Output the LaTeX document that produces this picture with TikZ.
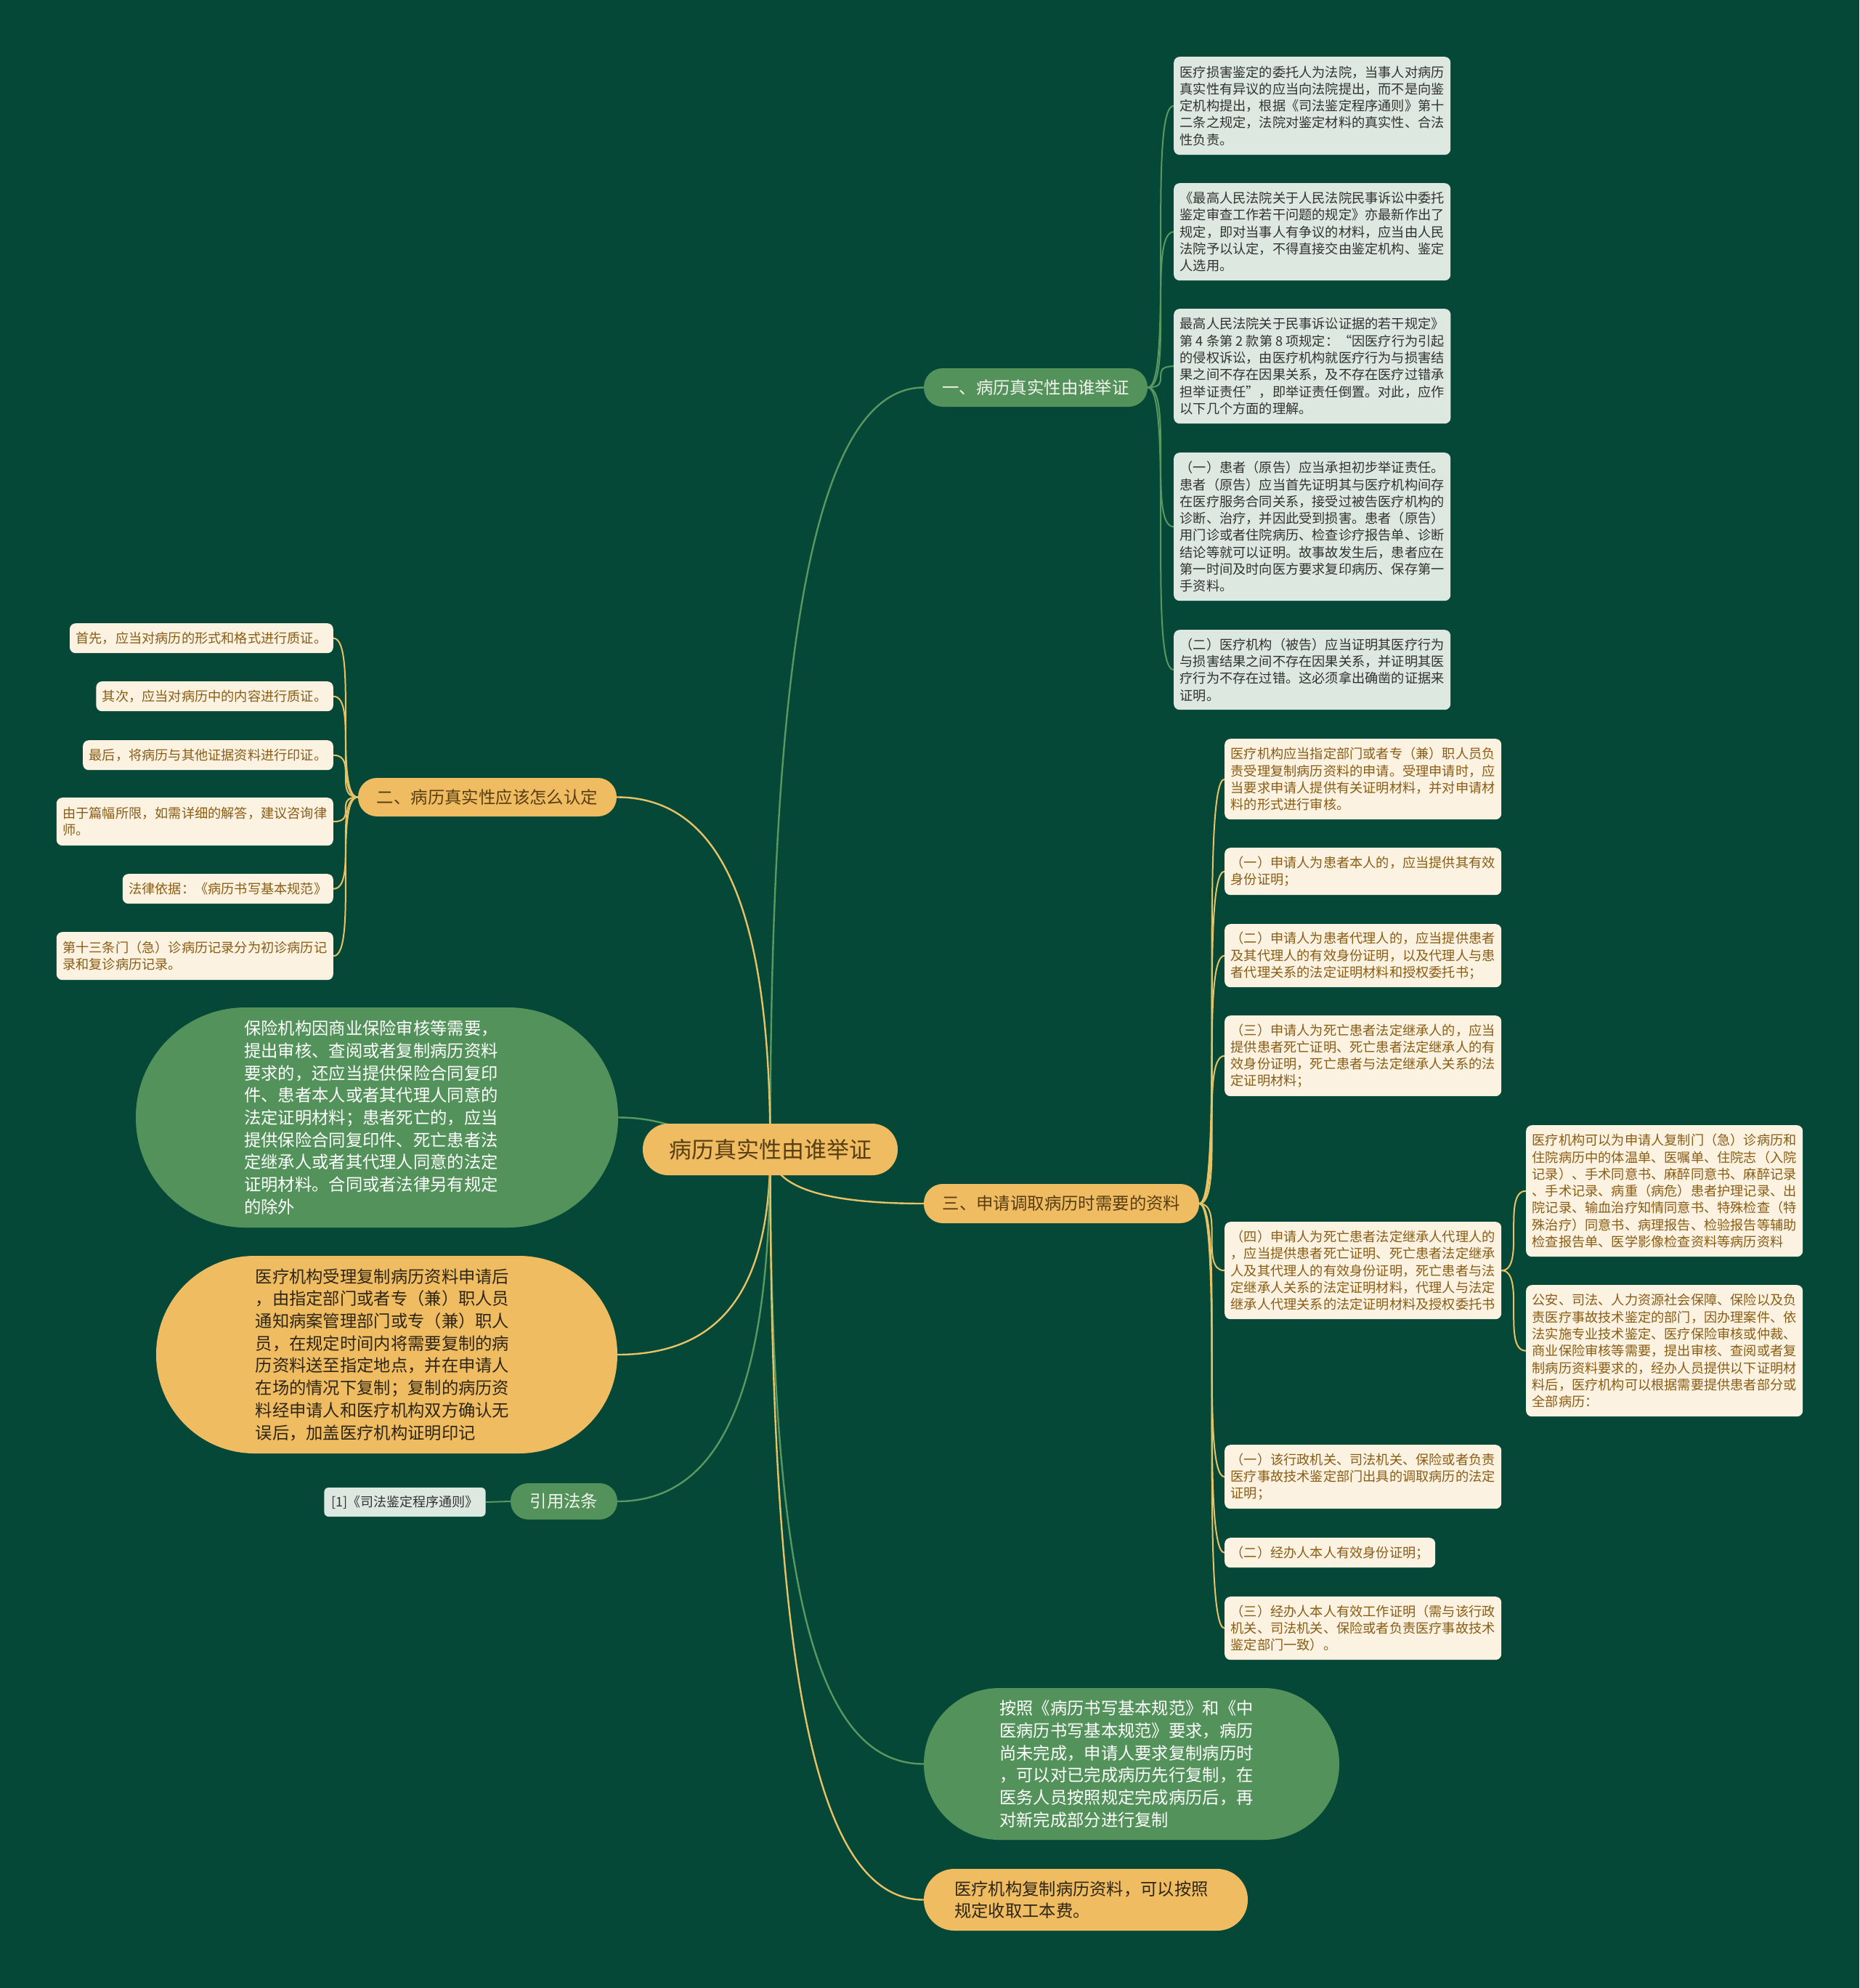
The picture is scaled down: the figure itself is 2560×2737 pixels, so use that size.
\documentclass[tikz,border=0pt]{standalone}
\usepackage{fontspec}
\setmainfont{Noto Sans CJK SC}
\pgfdeclarelayer{bglayer}
\pgfdeclarelayer{edgelayer}
\pgfsetlayers{bglayer,edgelayer,main}
\definecolor{bgc}{RGB}{6,72,56}
\definecolor{gfill}{RGB}{84,146,91}
\definecolor{ofill}{RGB}{240,188,98}
\definecolor{leafgc}{RGB}{221,233,224}
\definecolor{leafcc}{RGB}{252,242,226}
\definecolor{tbrown}{RGB}{138,93,20}
\definecolor{tdark}{RGB}{50,50,50}
\definecolor{tpill}{RGB}{88,62,18}
\definecolor{tlight}{RGB}{240,244,236}
\definecolor{tstad}{RGB}{45,38,22}
\definecolor{lgreen}{RGB}{90,152,98}
\definecolor{lyellow}{RGB}{232,194,102}
\begin{document}
\begin{tikzpicture}[x=1pt,y=-1pt,
  leafbase/.style={rounded corners=8pt, align=left, inner xsep=8.5pt, inner ysep=0pt,
    font=\fontsize{18.2}{23.3}\selectfont, anchor=north west},
  leafg/.style={leafbase, fill=leafgc, text=tdark},
  leafc/.style={leafbase, fill=leafcc, text=tbrown},
  pillbase/.style={inner sep=0pt, font=\fontsize{23.4}{28}\selectfont},
  pillg/.style={pillbase, fill=gfill, text=tlight},
  pillo/.style={pillbase, fill=ofill, text=tpill},
  stadbase/.style={inner sep=0pt, align=left, font=\fontsize{23.3}{30.7}\selectfont},
  stadg/.style={stadbase, fill=gfill, text=white},
  stado/.style={stadbase, fill=ofill, text=tstad},
  rootst/.style={inner sep=0pt, fill=ofill, text=tpill, font=\fontsize{31}{36}\selectfont},
  gline/.style={draw=lgreen, line width=2.4pt},
  yline/.style={draw=lyellow, line width=2.4pt},
  glinet/.style={draw=lgreen, line width=2pt},
  ylinet/.style={draw=lyellow, line width=2pt},
  brc/.style={to path={.. controls +(#1,0) and +(-#1,0) .. (\tikztotarget)}}
]
\useasboundingbox (0,0) rectangle (2560,2737);
\begin{pgfonlayer}{bglayer}
  \fill[bgc] (0,0) rectangle (2560,2737);
\end{pgfonlayer}

% root
\node[rootst, minimum width=351pt, minimum height=71pt, rounded corners=35pt] (root) at (1060.5,1582.5) {病历真实性由谁举证};

% main branches
\node[pillg, minimum width=308pt, minimum height=53pt, rounded corners=26pt] (b1) at (1426,533.5) {一、病历真实性由谁举证};
\node[pillo, minimum width=356pt, minimum height=53pt, rounded corners=26pt] (b2) at (671,1097.5) {二、病历真实性应该怎么认定};
\node[pillo, minimum width=379pt, minimum height=54pt, rounded corners=26pt] (b3) at (1461.5,1657) {三、申请调取病历时需要的资料};
\node[pillg, minimum width=147pt, minimum height=50pt, rounded corners=24.5pt] (q) at (776.5,2067) {引用法条};
\node[inner xsep=10pt, inner ysep=0pt, minimum height=40pt, rounded corners=6pt, fill=leafgc, text=tdark,
  font=\fontsize{18}{22}\selectfont] (ref) at (557.5,2068) {[1]《司法鉴定程序通则》};

% stadiums
\node[stadg, minimum width=664pt, minimum height=303pt, rounded corners=151pt] (s1) at (519,1538.5) {保险机构因商业保险审核等需要，\\提出审核、查阅或者复制病历资料\kern16pt\\要求的，还应当提供保险合同复印\\件、患者本人或者其代理人同意的\\法定证明材料；患者死亡的，应当\\提供保险合同复印件、死亡患者法\\定继承人或者其代理人同意的法定\\证明材料。合同或者法律另有规定\\的除外};
\node[stado, minimum width=635pt, minimum height=272pt, rounded corners=135.5pt] (s2) at (532.5,1865) {医疗机构受理复制病历资料申请后\kern12pt\\，由指定部门或者专（兼）职人员\\通知病案管理部门或专（兼）职人\\员，在规定时间内将需要复制的病\\历资料送至指定地点，并在申请人\\在场的情况下复制；复制的病历资\\料经申请人和医疗机构双方确认无\\误后，加盖医疗机构证明印记};
\node[stadg, minimum width=572pt, minimum height=209pt, rounded corners=104pt] (s3) at (1558,2428.5) {按照《病历书写基本规范》和《中\kern14pt\\医病历书写基本规范》要求，病历\\尚未完成，申请人要求复制病历时\\，可以对已完成病历先行复制，在\\医务人员按照规定完成病历后，再\\对新完成部分进行复制};
\node[stado, minimum width=446pt, minimum height=85pt, rounded corners=42pt] (s4) at (1495,2615.5) {医疗机构复制病历资料，可以按照\kern12pt\\规定收取工本费。};

% branch 1 leaves
\node[leafg, minimum height=135pt] (a1) at (1616,78) {医疗损害鉴定的委托人为法院，当事人对病历\\真实性有异议的应当向法院提出，而不是向鉴\\定机构提出，根据《司法鉴定程序通则》第十\\二条之规定，法院对鉴定材料的真实性、合法\\性负责。};
\node[leafg, minimum height=134pt] (a2) at (1616,252) {《最高人民法院关于人民法院民事诉讼中委托\\鉴定审查工作若干问题的规定》亦最新作出了\\规定，即对当事人有争议的材料，应当由人民\\法院予以认定，不得直接交由鉴定机构、鉴定\\人选用。};
\node[leafg, minimum height=158pt] (a3) at (1616,425) {最高人民法院关于民事诉讼证据的若干规定》\\第 4 条第 2 款第 8 项规定：“因医疗行为引起\\的侵权诉讼，由医疗机构就医疗行为与损害结\\果之间不存在因果关系，及不存在医疗过错承\\担举证责任”，即举证责任倒置。对此，应作\\以下几个方面的理解。};
\node[leafg, minimum height=204pt] (a4) at (1616,623) {（一）患者（原告）应当承担初步举证责任。\\患者（原告）应当首先证明其与医疗机构间存\\在医疗服务合同关系，接受过被告医疗机构的\\诊断、治疗，并因此受到损害。患者（原告）\\用门诊或者住院病历、检查诊疗报告单、诊断\\结论等就可以证明。故事故发生后，患者应在\\第一时间及时向医方要求复印病历、保存第一\\手资料。};
\node[leafg, minimum height=110pt] (a5) at (1616,867) {（二）医疗机构（被告）应当证明其医疗行为\\与损害结果之间不存在因果关系，并证明其医\\疗行为不存在过错。这必须拿出确凿的证据来\\证明。};

% branch 2 leaves
\node[leafc, anchor=north east, minimum height=41pt] (l1) at (459,858) {首先，应当对病历的形式和格式进行质证。};
\node[leafc, anchor=north east, minimum height=41pt] (l2) at (459,938) {其次，应当对病历中的内容进行质证。};
\node[leafc, anchor=north east, minimum height=41pt] (l3) at (459,1019) {最后，将病历与其他证据资料进行印证。};
\node[leafc, anchor=north east, minimum height=66pt] (l4) at (459,1098) {由于篇幅所限，如需详细的解答，建议咨询律\\师。};
\node[leafc, anchor=north east, minimum height=41pt] (l5) at (459,1203) {法律依据：《病历书写基本规范》};
\node[leafc, anchor=north east, minimum height=66pt] (l6) at (459,1283) {第十三条门（急）诊病历记录分为初诊病历记\\录和复诊病历记录。};

% branch 3 leaves
\node[leafc, minimum height=111pt] (c1) at (1686,1017) {医疗机构应当指定部门或者专（兼）职人员负\\责受理复制病历资料的申请。受理申请时，应\\当要求申请人提供有关证明材料，并对申请材\\料的形式进行审核。};
\node[leafc, minimum height=65pt] (c2) at (1686,1167) {（一）申请人为患者本人的，应当提供其有效\\身份证明；};
\node[leafc, minimum height=87pt] (c3) at (1686,1272) {（二）申请人为患者代理人的，应当提供患者\\及其代理人的有效身份证明，以及代理人与患\\者代理关系的法定证明材料和授权委托书；};
\node[leafc, minimum height=111pt] (c4) at (1686,1398) {（三）申请人为死亡患者法定继承人的，应当\\提供患者死亡证明、死亡患者法定继承人的有\\效身份证明，死亡患者与法定继承人关系的法\\定证明材料；};
\node[leafc, minimum height=134pt] (c5) at (1686,1682) {（四）申请人为死亡患者法定继承人代理人的\\，应当提供患者死亡证明、死亡患者法定继承\\人及其代理人的有效身份证明，死亡患者与法\\定继承人关系的法定证明材料，代理人与法定\\继承人代理关系的法定证明材料及授权委托书};
\node[leafc, minimum height=88pt] (c6) at (1686,1989) {（一）该行政机关、司法机关、保险或者负责\\医疗事故技术鉴定部门出具的调取病历的法定\\证明；};
\node[leafc, minimum height=41pt] (c7) at (1686,2117) {（二）经办人本人有效身份证明；};
\node[leafc, minimum height=87pt] (c8) at (1686,2198) {（三）经办人本人有效工作证明（需与该行政\\机关、司法机关、保险或者负责医疗事故技术\\鉴定部门一致）。};

% far right leaves
\node[leafc, minimum height=181pt] (d1) at (2101,1549) {医疗机构可以为申请人复制门（急）诊病历和\\住院病历中的体温单、医嘱单、住院志（入院\\记录）、手术同意书、麻醉同意书、麻醉记录\\、手术记录、病重（病危）患者护理记录、出\\院记录、输血治疗知情同意书、特殊检查（特\\殊治疗）同意书、病理报告、检验报告等辅助\\检查报告单、医学影像检查资料等病历资料};
\node[leafc, minimum height=181pt] (d2) at (2101,1769) {公安、司法、人力资源社会保障、保险以及负\\责医疗事故技术鉴定的部门，因办理案件、依\\法实施专业技术鉴定、医疗保险审核或仲裁、\\商业保险审核等需要，提出审核、查阅或者复\\制病历资料要求的，经办人员提供以下证明材\\料后，医疗机构可以根据需要提供患者部分或\\全部病历：};

% connectors
\begin{pgfonlayer}{edgelayer}
  \draw[gline] (root.center) .. controls +(0,-683) and +(-152,0) .. (b1.west);
  \draw[yline] (root.center) .. controls +(0,-316) and +(150,0) .. (b2.east);
  \draw[gline] (root.center) .. controls +(-90,0) and +(90,0) .. (s1.east);
  \draw[yline] (root.center) .. controls +(0,183) and +(150,0) .. (s2.east);
  \draw[gline] (root.center) .. controls +(0,315) and +(150,0) .. (q.east);
  \draw[yline] (root.center) .. controls +(0,48) and +(-150,0) .. (b3.west);
  \draw[gline] (root.center) .. controls +(0,600) and +(-150,0) .. (s3.west);
  \draw[yline] (root.center) .. controls +(0,720) and +(-150,0) .. (s4.west);

  \foreach \t in {a1,a2,a3,a4,a5} \draw[glinet] (b1.east) to[brc=36] (\t.west);
  \foreach \t in {l1,l2,l3,l4,l5,l6} \draw[ylinet] (b2.west) to[brc=-34] (\t.east);
  \foreach \t in {c1,c2,c3,c4,c5,c6,c7,c8} \draw[ylinet] (b3.east) to[brc=35] (\t.west);
  \foreach \t in {d1,d2} \draw[ylinet] (c5.east) to[brc=34] (\t.west);
  \draw[glinet] (q.west) -- (ref.east);
\end{pgfonlayer}
\end{tikzpicture}
\end{document}
